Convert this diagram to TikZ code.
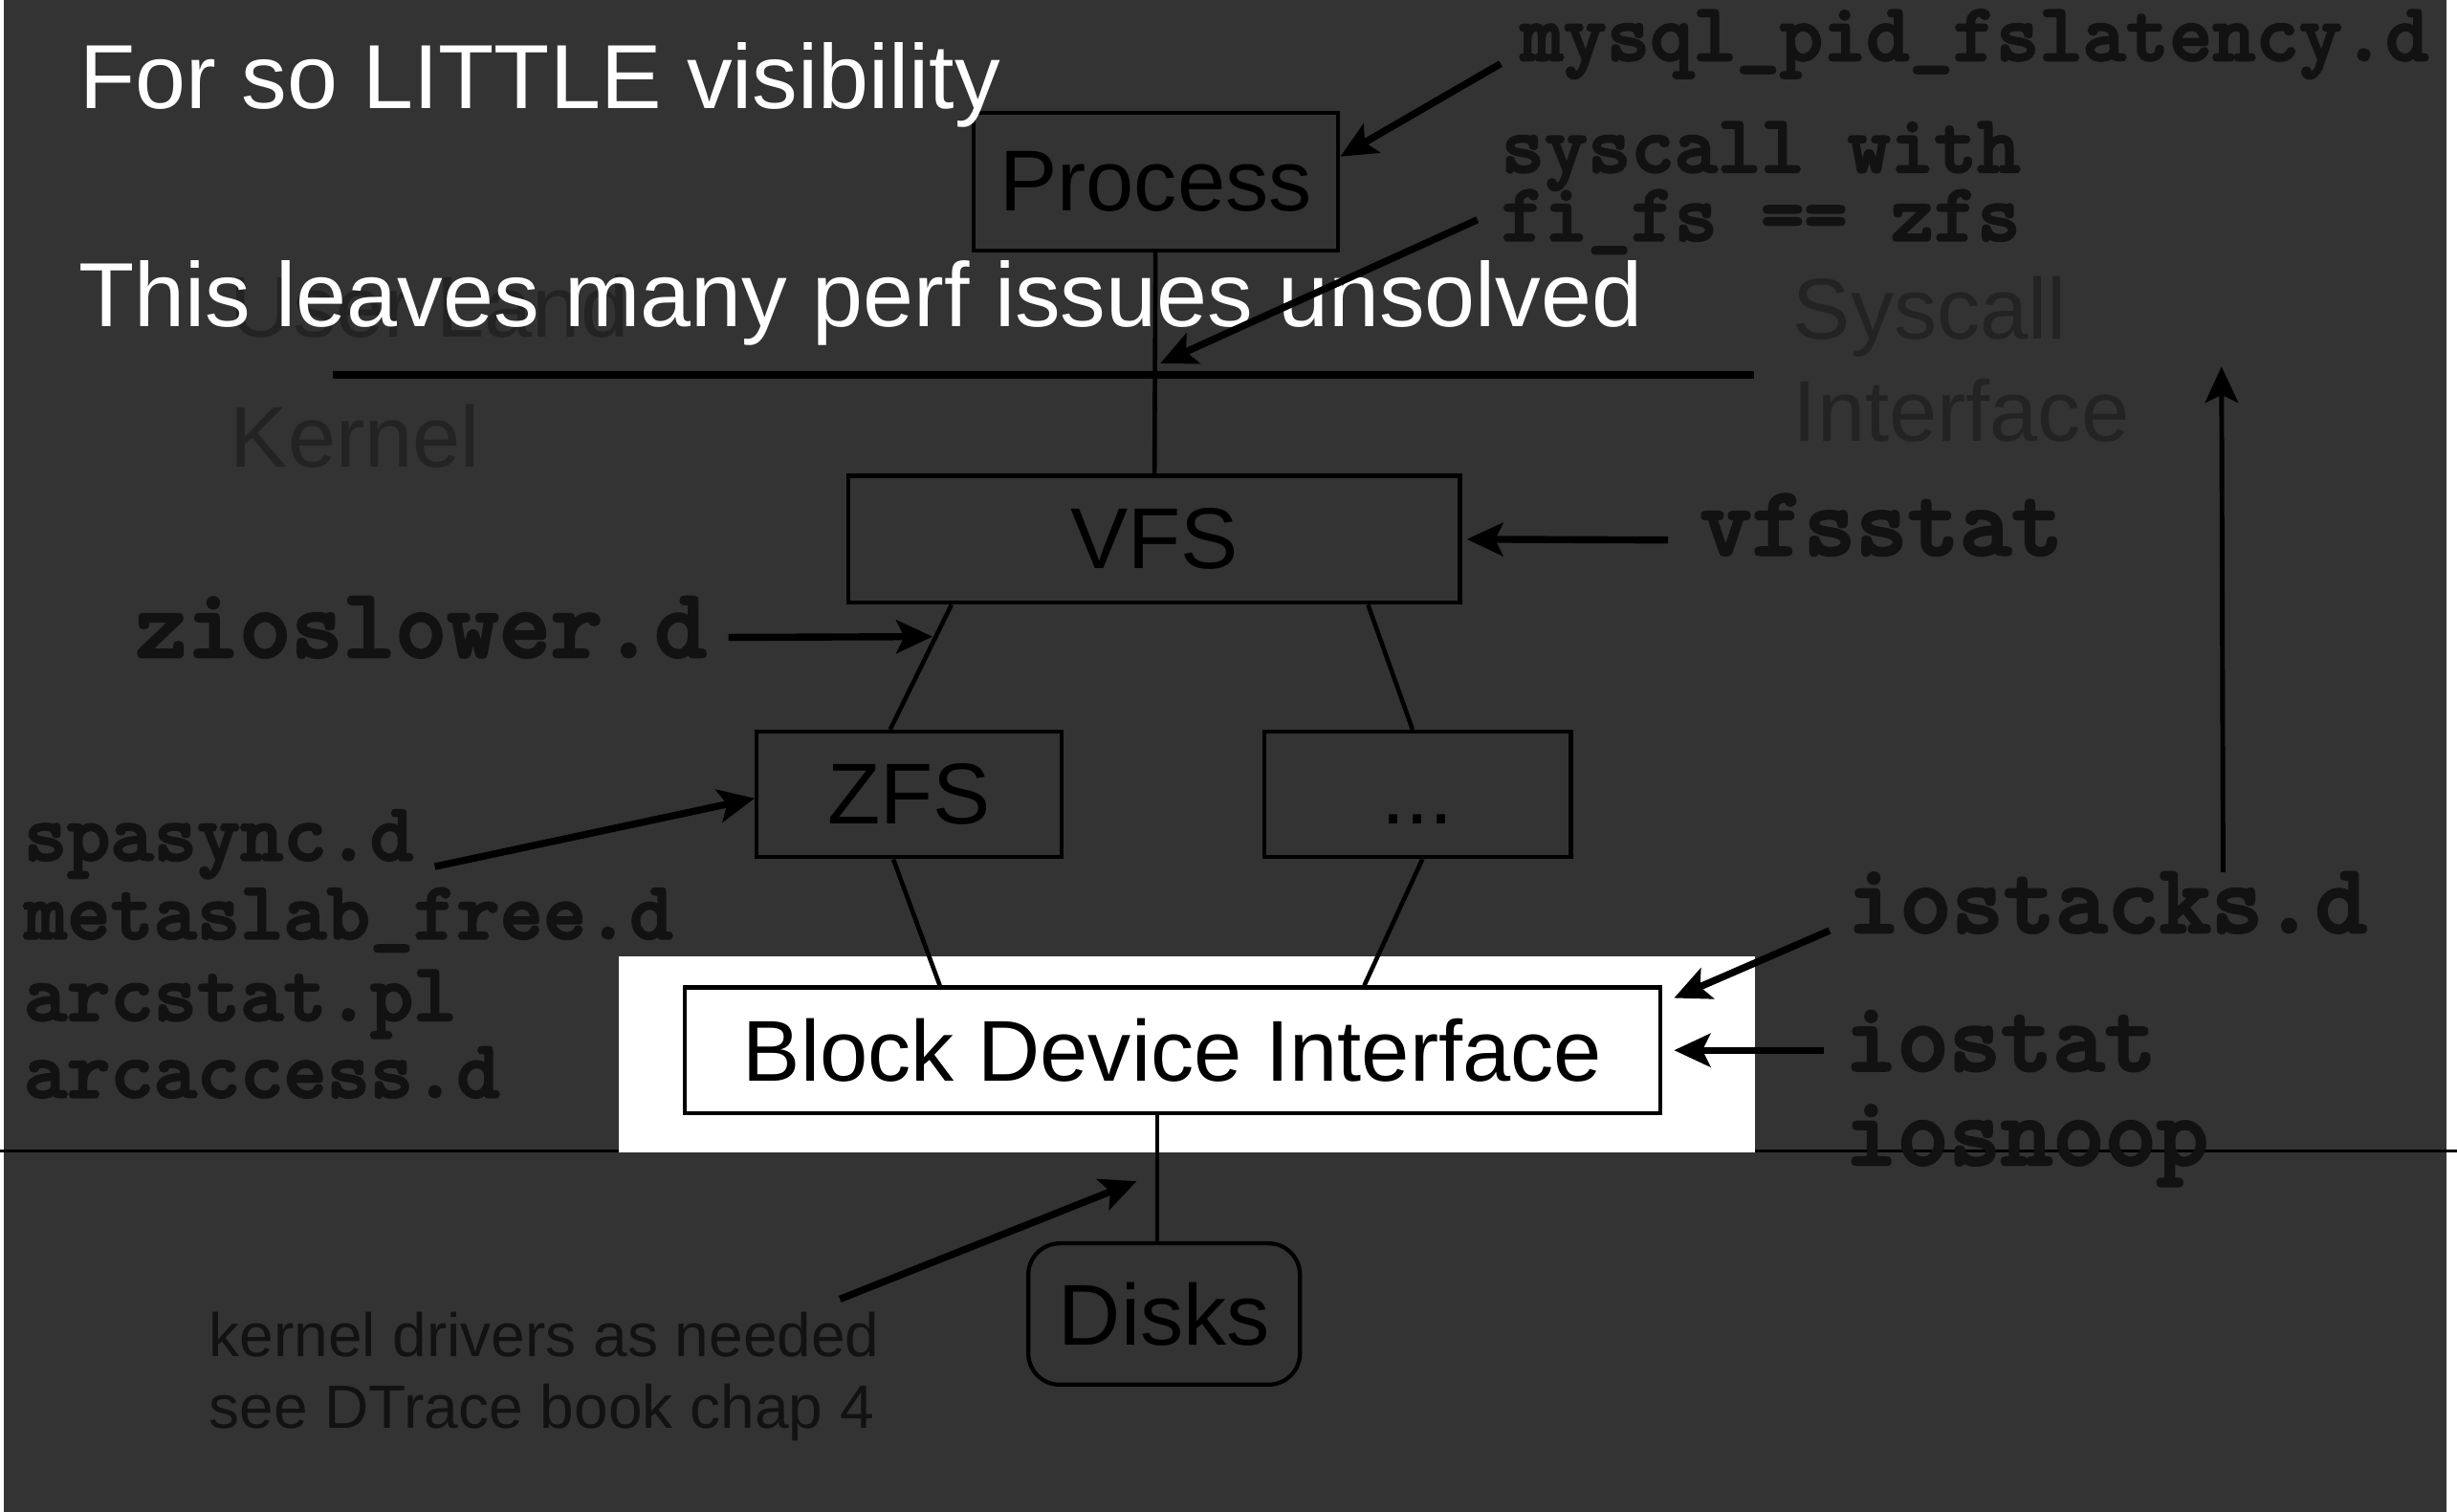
\documentclass[tikz,border=0pt]{standalone}
\usepackage{fontspec}
\setmainfont{Liberation Sans}
\IfFontExistsTF{lmmonolt10-bold.otf}
  {\newfontfamily\dtfont[FakeBold=2.5]{lmmonolt10-bold.otf}}
  {\newfontfamily\dtfont[FakeBold=4]{lmmono10-regular.otf}}
\usetikzlibrary{arrows.meta}

\definecolor{slide}{HTML}{333333}
\definecolor{ink}{HTML}{121212}
\definecolor{dim}{HTML}{232323}

\tikzset{
  layer/.style={draw, line width=2.6pt, inner sep=0pt, font=\fontsize{55}{60}\selectfont},
  wire/.style={draw, line width=2.8pt},
  probe/.style={draw, line width=4.5pt, -{Stealth[length=23pt,width=21pt,inset=5pt]}},
  headline/.style={anchor=base west, inner sep=0pt, text=white, font=\fontsize{58}{64}\selectfont},
  shade/.style={anchor=base west, inner sep=0pt, text=dim, font=\fontsize{55}{60}\selectfont},
  dtbig/.style={anchor=base west, inner sep=0pt, text=ink, font=\dtfont\fontsize{63}{63}\selectfont},
  dtsmall/.style={anchor=base west, inner sep=0pt, text=ink, font=\dtfont\fontsize{52.5}{52.5}\selectfont},
  note/.style={anchor=base west, inner sep=0pt, text=ink, font=\fontsize{39}{44}\selectfont},
}

\begin{document}
\begin{tikzpicture}[x=1pt,y=-1pt]

  \useasboundingbox (0,0) rectangle (1565,963.1);
  \fill[white] (0,0) rectangle (1565,963.1);
  \fill[slide] (2.5,0) rectangle (1558.5,963.1);

  \node[shade] (userland) at (146.5,215)   {User Land};
  \node[shade] (kernel)   at (146.5,297.5) {Kernel};
  \node[shade] (syscall)  at (1142,216)    {Syscall};
  \node[shade] (iface)    at (1142,281.3)  {Interface};

  \draw[line width=1.8pt] (0,733) -- (1565,733);
  \fill[white] (394,609) rectangle (1118,734.2);
  \draw[line width=4.8pt] (212,238.6) -- (1117.3,238.6);

  \begin{scope}[every node/.style={layer}]
    \node (proc)  at (736.2,115.7) [minimum width=232.5pt, minimum height=87.4pt] {Process};
    \node (vfs)   at (735.2,343.5) [minimum width=389.5pt, minimum height=81pt] {VFS};
    \node (zfs)   at (579,506)     [minimum width=194pt, minimum height=80pt] {ZFS};
    \node (other) at (903,506)     [minimum width=195pt, minimum height=80pt] {\vphantom{Z}...};
    \node (bdi)   at (746.8,669)   [minimum width=621.6pt, minimum height=80pt, fill=white] {Block Device Interface};
    \node (disks) at (741.5,837)   [minimum width=173pt, minimum height=90pt, rounded corners=20pt] {Disks};
  \end{scope}

  \begin{scope}[every edge/.style={wire}]
    \path (proc) edge (vfs);
    \path ([xshift=-129.2pt]vfs.south) edge ([xshift=-12pt]zfs.north);
    \path ([xshift=136.2pt]vfs.south) edge ([xshift=-3.3pt]other.north);
    \path ([xshift=-10pt]zfs.south) edge ([xshift=-148.2pt]bdi.north);
    \path ([xshift=3pt]other.south) edge ([xshift=122.2pt]bdi.north);
    \path ([xshift=-9.8pt]bdi.south) edge ([xshift=-4.5pt]disks.north);
  \end{scope}

  \node[dtsmall] (fslat) at (968,38.5)     {mysql\_pid\_fslatency.d};
  \node[dtsmall] (sys1)  at (956,109.7)    {syscall with};
  \node[dtsmall] (sys2)  at (956,153.3)    {fi\_fs == zfs};
  \node[dtbig]   (vfsst) at (1082.5,353.5) {vfsstat};
  \node[dtbig]   (zslow) at (86,418.6)     {zioslower.d};
  \node[dtsmall] (spa)   at (15,548)       {spasync.d};
  \node[dtsmall] (meta)  at (15,598)       {metaslab\_free.d};
  \node[dtsmall] (arcst) at (15,650)       {arcstat.pl};
  \node[dtsmall] (arcac) at (15,699)       {arcaccess.d};
  \node[dtbig]   (iostk) at (1176.7,594)   {iostacks.d};
  \node[dtbig]   (iost)  at (1175,682)     {iostat};
  \node[dtbig]   (iosn)  at (1175,742)     {iosnoop};

  \node[note] (drv1) at (133,864)   {kernel drivers as needed};
  \node[note] (drv2) at (133,909.6) {see DTrace book chap 4};

  \node[headline] (little)   at (50.5,69) {For so LITTLE visibility};
  \node[headline] (unsolved) at (50,208)  {This leaves many perf issues unsolved};

  \coordinate (fslat-tail) at (955.8,40.6);
  \coordinate (sys-tail)   at (941,140);
  \coordinate (sys-tip)    at (739,231.5);
  \coordinate (vfsst-tail) at (1062.5,344);
  \coordinate (zslow-tail) at (464,406);
  \coordinate (zslow-tip)  at (594,405.5);
  \coordinate (spa-tail)   at (277,552);
  \coordinate (iostk-tail) at (1165.3,592.8);
  \coordinate (iost-tail)  at (1161.8,669);
  \coordinate (drv-tail)   at (535,827.5);
  \coordinate (drv-tip)    at (724,752.4);
  \coordinate (up-tail)    at (1416,555.6);
  \coordinate (up-tip)     at (1415,233.5);

  \begin{scope}[every edge/.style={probe}]
    \path (fslat-tail) edge ([yshift=16pt]proc.east);
    \path (sys-tail)   edge (sys-tip);
    \path (vfsst-tail) edge ([xshift=3pt]vfs.east);
    \path (zslow-tail) edge (zslow-tip);
    \path (spa-tail)   edge ([yshift=-2.5pt]zfs.west);
    \path (iostk-tail) edge ([shift={(7.4pt,-8pt)}]bdi.north east);
    \path (iost-tail)  edge ([xshift=7.4pt]bdi.east);
    \path (drv-tail)   edge (drv-tip);
    \path (up-tail)    edge[line width=3pt] (up-tip);
  \end{scope}

\end{tikzpicture}
\end{document}
